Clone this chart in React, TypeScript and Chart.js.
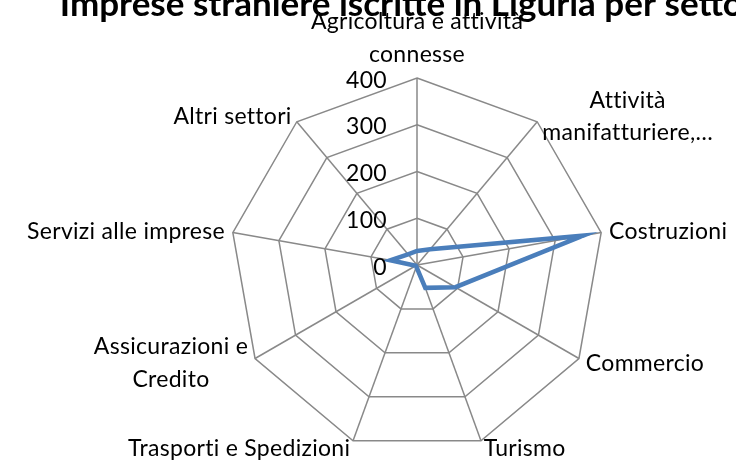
import React, { useEffect, useRef } from "react";
import { Chart, registerables } from "chart.js";

Chart.register(...registerables);

const TITLE = "Imprese straniere iscritte in Liguria per settore";
const categories: string[][] = [
  ["Agricoltura e attività", "connesse"],
  ["Attività", "manifatturiere,…"],
  ["Costruzioni"],
  ["Commercio"],
  ["Turismo"],
  ["Trasporti e Spedizioni"],
  ["Assicurazioni e", "Credito"],
  ["Servizi alle imprese"],
  ["Altri settori"],
];
const values = [30, 44, 361, 95, 52, 4, 3, 58, 30];
const tickValues = [0, 100, 200, 300, 400];

const FONT = "Lato";
const LABEL_SIZE = 23;
const CAP = 0.7165 * LABEL_SIZE; // cap height of Lato
const LINE_H = 32.7;
const LABEL_GAP = 8;

const overlayPlugin = {
  id: "overlay",
  afterDraw(chart: any) {
    const scale = chart.scales.r;
    const ctx = chart.ctx;
    ctx.save();
    ctx.fillStyle = "#000";
    try {
      ctx.letterSpacing = "0.3px";
    } catch (e) {}

    // point labels
    ctx.font = `${LABEL_SIZE}px ${FONT}`;
    ctx.textBaseline = "alphabetic";
    const n = categories.length;
    categories.forEach((lines, i) => {
      const pos = scale.getPointPosition(i, scale.drawingArea + LABEL_GAP);
      const deg = Math.round((360 * i) / n);
      const widths = lines.map((l) => ctx.measureText(l).width);
      const bw = Math.max(...widths);
      let left: number;
      if (deg === 0 || deg === 180) left = pos.x - bw / 2;
      else if (deg < 180) left = pos.x;
      else left = pos.x - bw;
      // cap-middle of the block centre
      let centre: number;
      if (deg === 0) centre = pos.y - (lines.length * LINE_H) / 2;
      else centre = pos.y;
      lines.forEach((l, k) => {
        const capMid = centre + (k - (lines.length - 1) / 2) * LINE_H;
        ctx.textAlign = "center";
        ctx.fillText(l, left + bw / 2, capMid + CAP / 2);
      });
    });

    // tick labels
    ctx.textAlign = "right";
    tickValues.forEach((v) => {
      const d = scale.getDistanceFromCenterForValue(v);
      ctx.fillText(String(v), scale.xCenter - 30, scale.yCenter - d + 1.5 + CAP / 2);
    });

    // title
    ctx.letterSpacing = "0px";
    ctx.font = `bold 35px ${FONT}`;
    ctx.textAlign = "center";
    ctx.fillText(TITLE, scale.xCenter, 16);
    ctx.restore();
  },
};

export default function App() {
  const ref = useRef<HTMLCanvasElement | null>(null);
  useEffect(() => {
    if (!ref.current) return;
    const chart = new Chart(ref.current, {
      type: "radar",
      data: {
        labels: categories.map((c) => c.join(" ")),
        datasets: [
          {
            data: values,
            borderColor: "#4a7ebb",
            backgroundColor: "transparent",
            borderWidth: 4.5,
            pointRadius: 0,
            fill: false,
            tension: 0,
          },
        ],
      },
      options: {
        responsive: false,
        animation: false,
        layout: { padding: { top: 78, bottom: 14, left: 229, right: 131 } },
        plugins: {
          legend: { display: false },
          title: { display: false },
          tooltip: { enabled: false },
        },
        scales: {
          r: {
            min: 0,
            max: 400,
            ticks: { stepSize: 100, display: false },
            grid: { color: "#898989", lineWidth: 1.5 },
            angleLines: { color: "#898989", lineWidth: 1.5 },
            pointLabels: { display: false },
          },
        },
      },
      plugins: [overlayPlugin],
    });
    return () => chart.destroy();
  }, []);
  return (
    <div style={{ position: "absolute", left: 0, top: 0, width: 736, height: 467, background: "#fff" }}>
      <canvas ref={ref} width={736} height={467} />
    </div>
  );
}
